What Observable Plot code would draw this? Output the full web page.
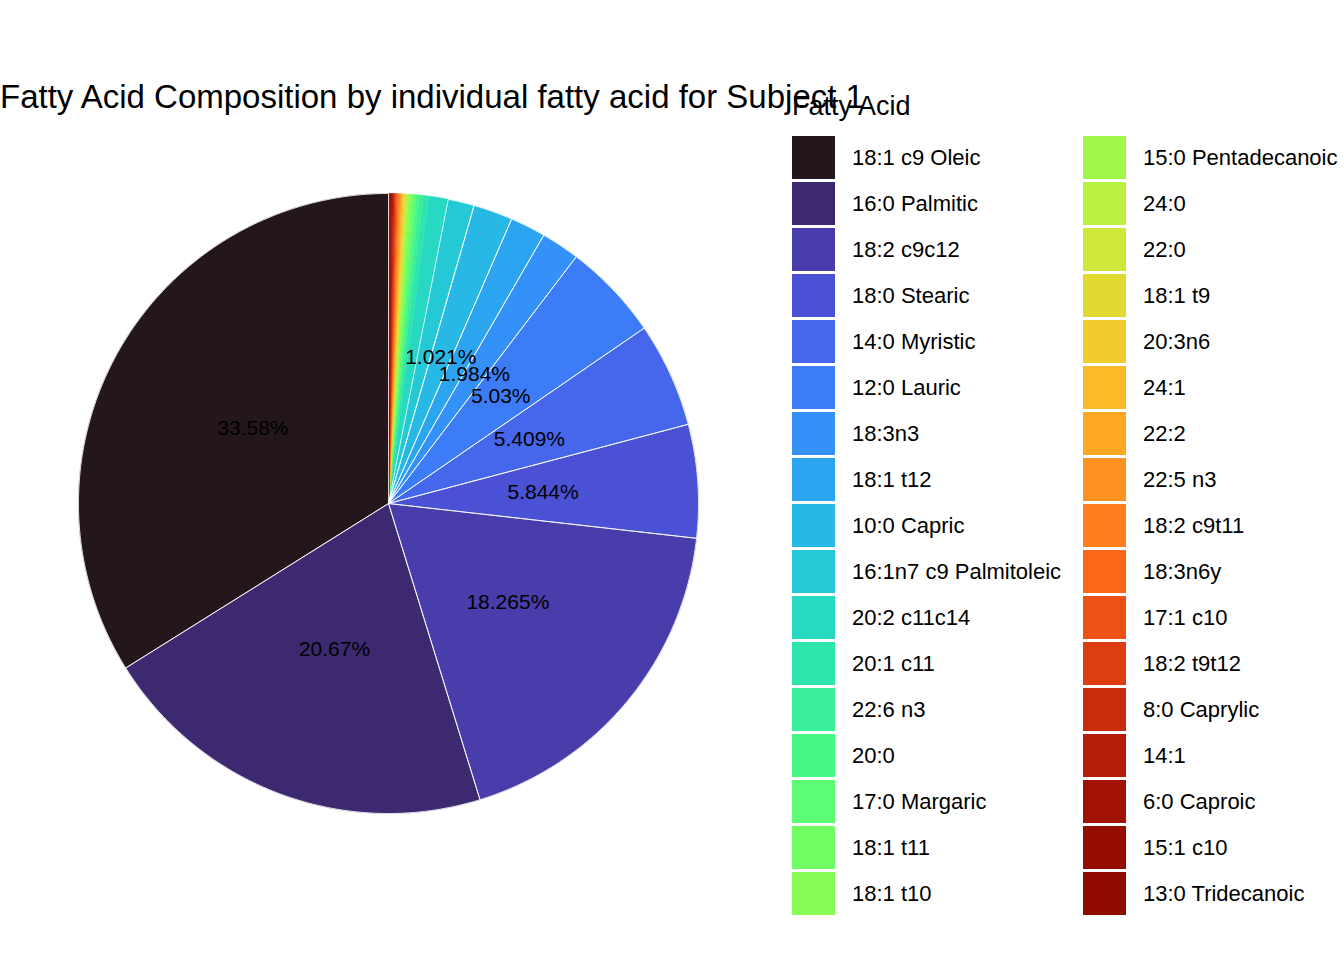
<!DOCTYPE html>
<html><head><meta charset="utf-8">
<script src="https://cdn.jsdelivr.net/npm/d3@7"></script>
<script src="https://cdn.jsdelivr.net/npm/@observablehq/plot@0.6"></script>
<style>
body{margin:0;font-family:"Liberation Sans",Arial,sans-serif;background:#fff}
#wrap{position:relative;width:1344px;height:960px}
#title{position:absolute;left:0;top:78px;font-size:33px;color:#000;white-space:nowrap}
#ltitle{position:absolute;left:792px;top:91px;font-size:27px;color:#000}
.key{position:absolute;width:43px;height:43px}
.lab{position:absolute;font-size:22px;color:#000;white-space:nowrap;line-height:43px}
#plot{position:absolute;left:0;top:0}
</style></head><body>
<div id="wrap"><div id="plot"></div>
<div id="title">Fatty Acid Composition by individual fatty acid for Subject 1</div>
<div id="ltitle">Fatty Acid</div></div>
<script>
const names = ["18:1 c9 Oleic","16:0 Palmitic","18:2 c9c12","18:0 Stearic","14:0 Myristic","12:0 Lauric","18:3n3","18:1 t12","10:0 Capric","16:1n7 c9 Palmitoleic","20:2 c11c14","20:1 c11","22:6 n3","20:0","17:0 Margaric","18:1 t11","18:1 t10","15:0 Pentadecanoic","24:0","22:0","18:1 t9","20:3n6","24:1","22:2","22:5 n3","18:2 c9t11","18:3n6y","17:1 c10","18:2 t9t12","8:0 Caprylic","14:1","6:0 Caproic","15:1 c10","13:0 Tridecanoic"];
const values = [33.58,20.67,18.265,5.844,5.409,5.03,1.984,1.83,2.03,1.35,1.0,0.3,0.2,0.15,0.15,0.12,0.12,0.06,0.06,0.06,0.06,0.06,0.06,0.06,0.06,0.06,0.06,0.06,0.06,0.06,0.06,0.06,0.06,0.06];
const labels = ["33.58%","20.67%","18.265%","5.844%","5.409%","5.03%","1.984%","","1.021%","","","","","","","","","","","","","","","","","","","","","","","","",""];
const n = names.length;
const colors = names.map((d,i)=>d3.interpolateTurbo(i/(n-1)));
const total = d3.sum(values);
const order = d3.range(n).reverse();
let acc = 0; const start = [], end = [];
for (const i of order){ start[i]=acc/total*2*Math.PI; acc+=values[i]; end[i]=acc/total*2*Math.PI; }
const poly = [];
for (let i=0;i<n;i++){
  poly.push({name:names[i],x:0,y:0});
  const steps = Math.max(2, Math.ceil((end[i]-start[i])*60));
  for (let k=0;k<=steps;k++){const a=start[i]+(end[i]-start[i])*k/steps; poly.push({name:names[i],x:Math.sin(a),y:Math.cos(a)});}
  poly.push({name:names[i],x:0,y:0});
}
const lab = names.map((d,i)=>{const a=(start[i]+end[i])/2; return {t:labels[i],x:0.5*Math.sin(a),y:0.5*Math.cos(a)};}).filter(d=>d.t);
const chart = Plot.plot({
  width:1344,height:960,marginLeft:78,marginRight:646,marginTop:193,marginBottom:147,
  x:{domain:[-1,1],axis:null},y:{domain:[-1,1],axis:null},
  color:{domain:names,range:colors},
  marks:[
    Plot.line(poly,{x:"x",y:"y",z:"name",fill:"name",stroke:"name",strokeWidth:0.5,curve:"linear"}),
    Plot.line(poly.filter(d=>values[names.indexOf(d.name)]>1),{x:"x",y:"y",z:"name",stroke:"white",strokeWidth:0.8,curve:"linear"}),
    Plot.text(lab,{x:"x",y:"y",text:"t",fontSize:21,fill:"black",fontFamily:"Liberation Sans, Arial"})
  ]
});
document.getElementById("plot").appendChild(chart);
const wrap=document.getElementById("wrap");
names.forEach((d,i)=>{
  const col=i<17?0:1, row=i%17;
  const x=col?1083:792, y=136+row*46;
  const k=document.createElement("div");k.className="key";k.style.left=x+"px";k.style.top=y+"px";k.style.background=colors[i];wrap.appendChild(k);
  const t=document.createElement("div");t.className="lab";t.style.left=(x+60)+"px";t.style.top=y+"px";t.textContent=d;wrap.appendChild(t);
});
</script></body></html>
